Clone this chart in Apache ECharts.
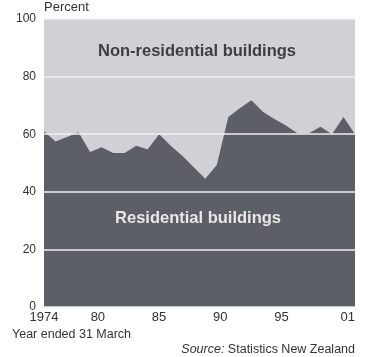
<!DOCTYPE html>
<html>
<head>
<meta charset="utf-8">
<script src="https://cdn.jsdelivr.net/npm/echarts@6/dist/echarts.min.js"></script>
<style>
html,body{margin:0;padding:0;background:#fff;}
#chart{width:366px;height:357px;}
</style>
</head>
<body>
<div id="chart"></div>
<script>
// Data: residential share of building consents (percent), years ended 31 March
var years = [1974,1975,1976,1977,1978,1979,1980,1981,1982,1983,1984,1985,1986,1987,
             1988,1989,1990,1991,1992,1993,1994,1995,1996,1997,1998,1999,2000,2001];
var residential = [61,57.5,59,60.7,53.8,55.5,53.5,53.5,56,54.8,60,56,52.5,48.5,
                   44.5,49.3,66,69,71.8,67.8,65.3,63,60.3,60.3,62.6,60,66,60];
var tickYears = [1974,1980,1985,1990,1995,2001];
var tickLabels = ['1974','80','85','90','95','01'];
var yTicks = [0,20,40,60,80,100];

var FONT = '"Liberation Sans", Arial, sans-serif';
var labelAxisMin = 1975.6;
var labelPositions = tickYears.map(function(v){ return Math.max(v, labelAxisMin); });

var chart = echarts.init(document.getElementById('chart'), null, {renderer:'canvas'});
chart.setOption({
  animation: false,
  backgroundColor: '#ffffff',
  grid: {left:44, right:11, top:19, bottom:50, show:true, backgroundColor:'#cfd1d6', borderWidth:0},
  xAxis: [
    {type:'value', min:years[0], max:years[years.length-1], show:false},
    {type:'value', min:labelAxisMin, max:years[years.length-1], position:'bottom',
     axisLine:{show:false}, axisTick:{show:false}, splitLine:{show:false},
     axisLabel:{
       customValues: labelPositions,
       margin:4, color:'#333', fontSize:13, fontFamily:FONT,
       alignMaxLabel:'right',
       formatter:function(v){
         var i = labelPositions.indexOf(v);
         return i >= 0 ? tickLabels[i] : '';
       }
     }}
  ],
  yAxis: {
    type:'value', min:yTicks[0], max:yTicks[yTicks.length-1], interval:20, z:5,
    axisLine:{show:false}, axisTick:{show:false},
    splitLine:{show:true, lineStyle:{color:'#eeeff1', width:1.5}},
    axisLabel:{color:'#333', fontSize:12, fontFamily:FONT, margin:8}
  },
  series: [{
    type:'line', xAxisIndex:0,
    data: years.map(function(y,i){ return [y, residential[i]]; }),
    showSymbol:false, symbol:'none',
    lineStyle:{width:0},
    areaStyle:{color:'#5c5f65', opacity:1},
    z:2
  }],
  graphic: [
    {type:'text', left:44, top:1, style:{text:'Percent', fill:'#333', font:'13px '+FONT}},
    {type:'text', left:12, top:328, style:{text:'Year ended 31 March', fill:'#333', font:'12.5px '+FONT}},
    {type:'text', right:11, top:343, style:{
      text:'{i|Source:} Statistics New Zealand',
      fill:'#333', font:'12.5px '+FONT,
      rich:{i:{fontStyle:'italic', fontSize:12.5, fontFamily:FONT, fill:'#333'}}
    }},
    {type:'text', x:197, y:51, z:10, style:{text:'Non-residential buildings', fill:'#3c3e43',
      font:'bold 16.5px '+FONT, textAlign:'center', textVerticalAlign:'middle'}},
    {type:'text', x:198, y:218, z:10, style:{text:'Residential buildings', fill:'#e8e8ea',
      font:'bold 16.5px '+FONT, textAlign:'center', textVerticalAlign:'middle'}}
  ]
});
</script>
</body>
</html>
